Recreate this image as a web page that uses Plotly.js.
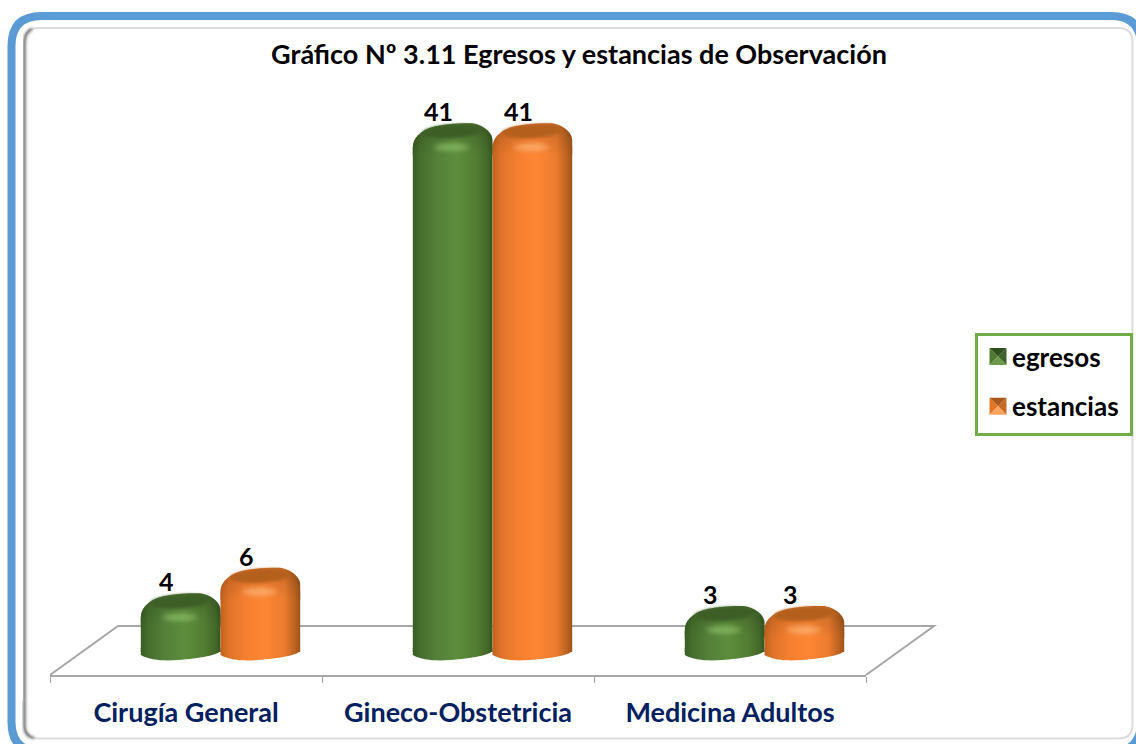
<!DOCTYPE html>
<html><head><meta charset="utf-8">
<script src="https://cdn.plot.ly/plotly-3.0.1.min.js"></script>
<style>html,body{margin:0;padding:0;background:#fff;overflow:hidden}</style>
</head><body><div id="chart" style="width:1136px;height:744px"></div>
<script>
const categories = ['Cirugía General', 'Gineco-Obstetricia', 'Medicina Adultos'];
const egresos = [4, 41, 3];
const estancias = [6, 41, 3];
const seriesNames = ['egresos', 'estancias'];
const titleText = 'Gráfico Nº 3.11 Egresos y estancias de Observación';

const W = 1136, H = 744, FONT = 'Lato, "Open Sans", sans-serif';
const PX_CAT = 272, PX_VAL = 12.7, ZERO_PX = 652, BAR = 0.293;
const px = v => v / W, py = v => 1 - v / H;
const xU = p => p / PX_CAT, yU = p => p / PX_VAL;

const shapes = [], roles = [];
function add(shape, role) { shapes.push(shape); roles.push(role || null); }
function paperPath(d, color, width, role) {
  add({type: 'path', xref: 'paper', yref: 'paper', layer: 'below', path: d,
       line: {color: color, width: width}, fillcolor: 'rgba(0,0,0,0)'}, role);
}
function roundedRect(x0, y0, x1, y1, r) {
  const c = r;
  return 'M' + px(x0) + ',' + py(y0 + c) +
    ' Q' + px(x0) + ',' + py(y0) + ' ' + px(x0 + c) + ',' + py(y0) +
    ' L' + px(x1 - c) + ',' + py(y0) +
    ' Q' + px(x1) + ',' + py(y0) + ' ' + px(x1) + ',' + py(y0 + c) +
    ' L' + px(x1) + ',' + py(y1 - c) +
    ' Q' + px(x1) + ',' + py(y1) + ' ' + px(x1 - c) + ',' + py(y1) +
    ' L' + px(x0 + c) + ',' + py(y1) +
    ' Q' + px(x0) + ',' + py(y1) + ' ' + px(x0) + ',' + py(y1 - c) + ' Z';
}
// outer frame + inner soft frame
paperPath(roundedRect(11.5, 16, 1141, 752, 30), '#5b9bd5', 8);
paperPath(roundedRect(24.5, 28, 1132.5, 738.5, 14), '#dcdcdc', 2);
paperPath('M' + px(1132.5) + ',' + py(45) + ' L' + px(1132.5) + ',' + py(724), '#b4b4b4', 2, 'soft');
paperPath('M' + px(24.5) + ',' + py(700) + ' L' + px(24.5) + ',' + py(44) + ' Q' + px(24.5) + ',' + py(32) + ' ' + px(32) + ',' + py(29), '#4a4a4a', 2, 'soft');
paperPath('M' + px(24.5) + ',' + py(700) + ' L' + px(24.5) + ',' + py(726) + ' Q' + px(24.5) + ',' + py(736) + ' ' + px(34) + ',' + py(738), '#4a4a4a', 2, 'soft');
// 3-D floor behind the columns
paperPath('M' + px(50) + ',' + py(675) + ' L' + px(118) + ',' + py(626) + ' L' + px(934) + ',' + py(626) + ' L' + px(866) + ',' + py(675), '#a6a6a6', 2);

function dataPath(d, fill, role, layer) {
  add({type: 'path', xref: 'x', yref: 'y', layer: layer, path: d, line: {width: 0}, fillcolor: fill}, role);
}
[egresos, estancias].forEach((vals, s) => {
  const tone = s === 0 ? 'G' : 'O';
  vals.forEach((v, i) => {
    const x0 = i + (s - 1) * BAR, w = BAR;
    const P = (fx, off) => (x0 + fx * w) + ',' + (v - yU(off));           // off: px below top of column value
    const B = (fx, off) => (x0 + fx * w) + ',' + (-yU(off));              // off: px below zero line
    // lower rim of the cylinder
    dataPath('M' + B(0, -4) + ' L' + B(0, 3) + ' C' + B(0.12, 8.5) + ' ' + B(0.3, 9) + ' ' + B(0.47, 8) +
      ' C' + B(0.72, 6.5) + ' ' + B(1, 3) + ' ' + B(1, -2) + ' Z', '#888', 'body' + tone, 'below');
    // upper cap, relative to the column value line (top edge sits 8px above it)
    const cap = 'M' + P(0, 18) + ' C' + P(0, 7) + ' ' + P(0.08, -1) + ' ' + P(0.28, -5) +
      ' C' + P(0.43, -7.5) + ' ' + P(0.6, -8) + ' ' + P(0.72, -8) +
      ' C' + P(0.83, -8) + ' ' + P(1, -1) + ' ' + P(1, 9) + ' L' + P(1, 24) + ' L' + P(0, 24) + ' Z';
    dataPath(cap, '#888', 'body' + tone, 'above');
    dataPath(cap, '#000', 'shade', 'above');
    // dark inner ellipse of the top
    dataPath('M' + P(0.12, 1) + ' C' + P(0.16, -4) + ' ' + P(0.4, -7) + ' ' + P(0.6, -7) +
      ' C' + P(0.76, -7) + ' ' + P(0.9, -4) + ' ' + P(0.88, -1) +
      ' C' + P(0.84, 4) + ' ' + P(0.6, 7) + ' ' + P(0.42, 7) + ' C' + P(0.24, 7) + ' ' + P(0.12, 5) + ' ' + P(0.12, 1) + ' Z',
      s === 0 ? '#3c5f27' : '#b4601f', 'soft', 'above');
    // specular highlight below the rim
    dataPath('M' + P(0.26, 16) + ' C' + P(0.36, 11) + ' ' + P(0.62, 11) + ' ' + P(0.72, 16) +
      ' C' + P(0.62, 21) + ' ' + P(0.36, 21) + ' ' + P(0.26, 16) + ' Z',
      s === 0 ? '#86b962' : '#ffb070', 'glow', 'above');
  });
});

const annotations = [];
[egresos, estancias].forEach((vals, s) => vals.forEach((v, i) => annotations.push({
  xref: 'x', yref: 'y', x: i + (s - 0.5) * BAR, y: v, xshift: -14, yshift: 20,
  text: String(v), showarrow: false, xanchor: 'center', yanchor: 'middle',
  font: {family: FONT, size: 25, color: '#000', weight: 700}
})));

const barColors = ['#5b8a3a', '#fd8533'];
const traces = [egresos, estancias].map((vals, s) => ({
  type: 'bar', x: categories, y: vals, name: seriesNames[s], xaxis: 'x', yaxis: 'y',
  legendgroup: seriesNames[s], hoverinfo: 'x+y+name',
  marker: {color: barColors[s], cornerradius: 16, line: {width: 0}}
}));
traces.push({type: 'scatter', mode: 'lines', x: categories, y: [0, 0, 0], xaxis: 'x2', yaxis: 'y2',
  line: {width: 0}, showlegend: false, hoverinfo: 'skip'});

const layout = {
  width: W, height: H, margin: {l: 0, r: 0, t: 0, b: 0}, autosize: false,
  paper_bgcolor: '#fff', plot_bgcolor: 'rgba(0,0,0,0)',
  barmode: 'group', bargap: 1 - 2 * BAR, bargroupgap: 0,
  title: {text: titleText, x: 579 / W, xref: 'paper', xanchor: 'center', y: py(55), yref: 'paper', yanchor: 'middle',
          font: {family: FONT, size: 27, color: '#000', weight: 700}},
  xaxis: {domain: [px(84.5), px(900.5)], range: [-0.5, 2.5], anchor: 'y', visible: false, type: 'category', fixedrange: true},
  yaxis: {domain: [py(652 + 2 * PX_VAL), py(652 - 45 * PX_VAL)], range: [-2, 45], visible: false, fixedrange: true},
  xaxis2: {domain: [px(50), px(866)], range: [-0.5, 2.5], anchor: 'y2', type: 'category', fixedrange: true,
           showline: true, linecolor: '#a6a6a6', linewidth: 2, showgrid: false, zeroline: false,
           ticks: 'outside', ticklen: 6, tickwidth: 1, tickcolor: '#a6a6a6', tickson: 'boundaries',
           ticklabelstandoff: 13,
           tickfont: {family: FONT, size: 27, color: '#002060', weight: 700}},
  yaxis2: {domain: [py(675), py(100)], range: [0, 45], anchor: 'x2', visible: false, fixedrange: true},
  showlegend: true,
  legend: {x: px(975), xanchor: 'left', y: py(333), yanchor: 'top', bgcolor: '#fff',
           bordercolor: '#70ad47', borderwidth: 3, orientation: 'v', traceorder: 'grouped',
           tracegroupgap: 13, itemclick: false, itemdoubleclick: false,
           entrywidth: 116, entrywidthmode: 'pixels',
           font: {family: FONT, size: 26, color: '#000', weight: 700}},
  shapes: shapes, annotations: annotations, hovermode: false
};

function stops(list) { return list.map(s => `<stop offset="${s[0]}" stop-color="${s[1]}"${s[2] !== undefined ? ` stop-opacity="${s[2]}"` : ''}/>`).join(''); }
Plotly.newPlot('chart', traces, layout, {displayModeBar: false, responsive: false}).then(gd => {
  const svg = gd.querySelector('svg.main-svg');
  const defs = document.createElementNS('http://www.w3.org/2000/svg', 'defs');
  defs.innerHTML =
    `<linearGradient id="bodyG" x1="0" x2="1" y1="0" y2="0">${stops([[0, '#3a5c24'], [0.1, '#466f2c'], [0.3, '#54803a'], [0.55, '#5d8d3b'], [0.8, '#537d33'], [0.93, '#446a2a'], [1, '#375722']])}</linearGradient>` +
    `<linearGradient id="bodyO" x1="0" x2="1" y1="0" y2="0">${stops([[0, '#c0621f'], [0.1, '#de7228'], [0.3, '#f47f30'], [0.55, '#fe8633'], [0.8, '#ec7c2e'], [0.93, '#bd6422'], [1, '#9e5219']])}</linearGradient>` +
    `<linearGradient id="shadeV" x1="0" x2="0" y1="0" y2="1">${stops([[0, '#000', 0.2], [0.5, '#000', 0.08], [1, '#000', 0]])}</linearGradient>` +
    `<filter id="blur1" x="-20%" y="-40%" width="140%" height="180%"><feGaussianBlur stdDeviation="1.8"/></filter>` +
    `<filter id="blur2" x="-40%" y="-80%" width="180%" height="260%"><feGaussianBlur stdDeviation="2.8"/></filter>`;
  svg.insertBefore(defs, svg.firstChild);
  const bars = gd.querySelectorAll('.barlayer .trace');
  bars.forEach((t, s) => t.querySelectorAll('.point path').forEach(p => p.style.setProperty('fill', s === 0 ? 'url(#bodyG)' : 'url(#bodyO)')));
  gd.querySelectorAll('path[data-index]').forEach(p => {
    const role = roles[+p.getAttribute('data-index')];
    if (role === 'bodyG' || role === 'bodyO') p.style.setProperty('fill', `url(#${role})`);
    if (role === 'shade') { p.style.setProperty('fill', 'url(#shadeV)'); p.style.setProperty('fill-opacity', 1); }
    if (role === 'soft') p.style.setProperty('filter', 'url(#blur1)');
    if (role === 'glow') { p.style.setProperty('filter', 'url(#blur2)'); p.style.setProperty('opacity', 0.85); }
  });
  // pyramid-bevel legend keys
  const keyTones = [['#2f4f1d', '#3f6328', '#6d9a4a', '#4d7a30'], ['#a9581d', '#c76a25', '#ffa25e', '#e07528']];
  gd.querySelectorAll('.legend .traces').forEach((tr, s) => {
    const base = tr.querySelector('.legendpoints path');
    if (base) {
      const g = base.parentNode, r = 8.5;
      const tri = [`M${-r},${-r}L${r},${-r}L0,0Z`, `M${-r},${-r}L${-r},${r}L0,0Z`, `M${r},${-r}L${r},${r}L0,0Z`, `M${-r},${r}L${r},${r}L0,0Z`];
      const tones = [keyTones[s][0], keyTones[s][3], keyTones[s][1], keyTones[s][2]];
      tri.forEach((d, k) => { const n = base.cloneNode(); n.setAttribute('d', d); n.style.setProperty('fill', tones[k]); n.style.setProperty('stroke', 'none'); g.appendChild(n); });
      base.style.display = 'none';
    }
    const label = tr.querySelector('.legendtext');
    if (label) label.setAttribute('x', 34);
  });
  gd.querySelectorAll('.legend .groups').forEach(rows => {
    const m = /translate\(([-\d.]+)[ ,]+([-\d.]+)\)/.exec(rows.getAttribute('transform') || '');
    const tx = m ? +m[1] : 0, ty = m ? +m[2] : 0;
    rows.setAttribute('transform', `translate(${tx},${ty - 3})`);
  });
});
</script></body></html>
